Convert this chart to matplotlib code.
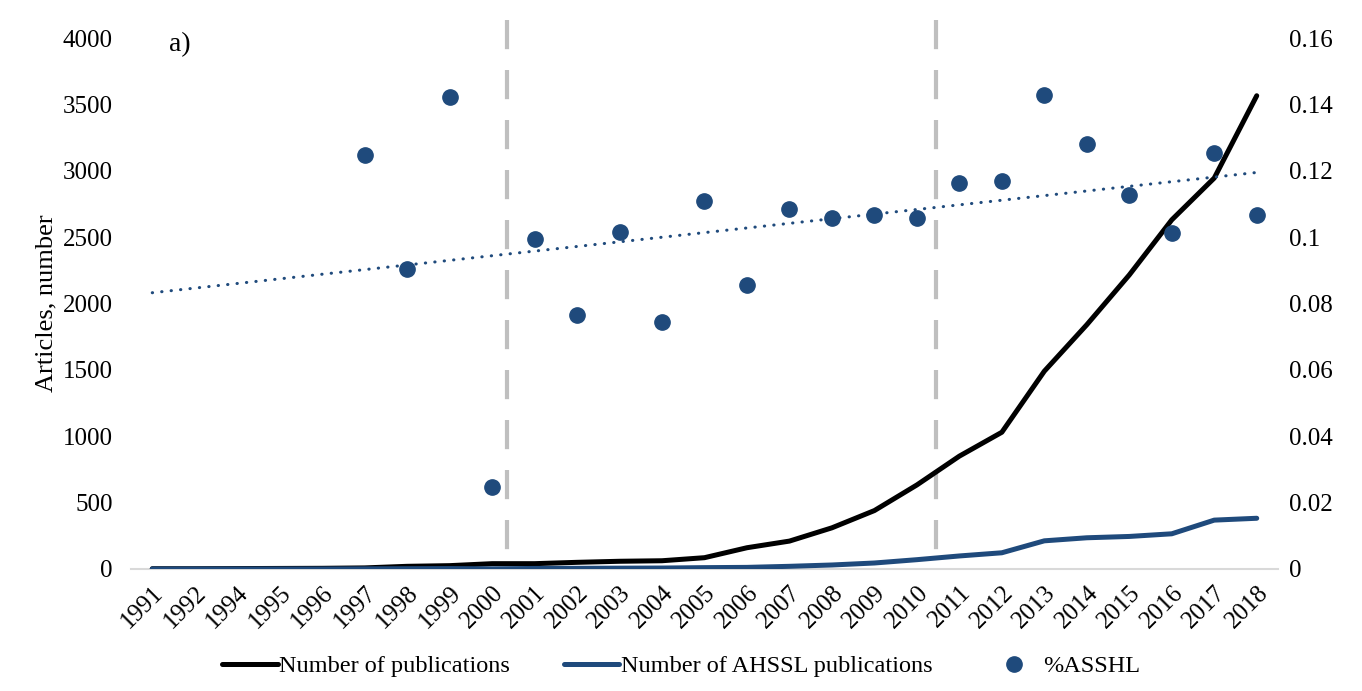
import numpy as np
import matplotlib
matplotlib.use("Agg")
import matplotlib.pyplot as plt

plt.rcParams['font.family'] = ['Liberation Serif', 'DejaVu Serif']

# data
years = ['1991', '1992', '1994', '1995', '1996', '1997', '1998', '1999', '2000',
         '2001', '2002', '2003', '2004', '2005', '2006', '2007', '2008', '2009',
         '2010', '2011', '2012', '2013', '2014', '2015', '2016', '2017', '2018']
n_pub = [2, 2, 3, 4, 5, 8, 20, 25, 40, 40, 50, 58, 62, 85, 160, 210, 310, 440,
         633, 850, 1030, 1490, 1840, 2215, 2630, 2945, 3565]
n_ahssl = [0, 0, 0, 0, 0, 1, 2, 3, 1, 4, 5, 6, 7, 10, 12, 20, 30, 45,
           70, 98, 122, 212, 235, 245, 265, 368, 382]
pct_asshl = [np.nan, np.nan, np.nan, np.nan, np.nan, 0.1247, 0.0905, 0.1423, 0.0247,
             0.0995, 0.0765, 0.1015, 0.0743, 0.1108, 0.0855, 0.1086, 0.1057, 0.1066,
             0.1058, 0.1162, 0.1169, 0.1427, 0.1280, 0.1126, 0.1013, 0.1253, 0.1066]
# positions of the two period separators (between category slots)
split_pos = [8.35, 18.45]

blue = '#1f4a7c'
x = np.arange(len(years))

fig = plt.figure(figsize=(13.62, 6.91), dpi=100)
ax = fig.add_axes([0.0962, 0.1766, 0.8421, 0.7684])
ax2 = ax.twinx()

ax.plot(x, n_pub, color='black', lw=3.6, solid_capstyle='round', zorder=3,
        label='Number of publications')
ax.plot(x, n_ahssl, color=blue, lw=3.6, solid_capstyle='round', zorder=3,
        label='Number of AHSSL publications')

pct = np.array(pct_asshl)
ok = ~np.isnan(pct)
ax2.plot(x, pct, 'o', color=blue, markersize=11, label='%ASSHL', zorder=4)
# linear trend line, as in the source
coef = np.polyfit(x[ok], pct[ok], 1)
ax2.plot(x, np.polyval(coef, x), color=blue, lw=2.2,
         linestyle=(0, (0.1, 3)), dash_capstyle='round', zorder=4)

for p in split_pos:
    ax.plot([p, p], [1.034, 0], transform=ax.get_xaxis_transform(), color='#bfbfbf',
            lw=3, linestyle=(0, (7, 5)), clip_on=False, zorder=2)

ax.set_xlim(-0.5, len(years) - 0.5)
ax.set_ylim(0, 4000)
ax2.set_ylim(0, 0.16)
ax.set_yticks(range(0, 4001, 500))
ax2.set_yticks([0, 0.02, 0.04, 0.06, 0.08, 0.1, 0.12, 0.14, 0.16])
ax2.set_yticklabels(['0', '0.02', '0.04', '0.06', '0.08', '0.1', '0.12', '0.14', '0.16'])
ax.set_xticks(x)
ax.set_xticklabels(years, rotation=45, ha='right', va='top', rotation_mode='anchor')

for a in (ax, ax2):
    for s in a.spines.values():
        s.set_visible(False)
    a.tick_params(length=0, labelsize=18)
ax.spines['bottom'].set_visible(True)
ax.spines['bottom'].set_color('#d9d9d9')
ax.spines['bottom'].set_linewidth(1.5)
ax.tick_params(axis='y', pad=13)
ax.tick_params(axis='x', pad=9)
ax2.tick_params(axis='y', pad=8)

ax.set_ylabel('Articles, number', fontsize=19, labelpad=4)
ax.text(0.033, 0.975, 'a)', transform=ax.transAxes, fontsize=20)

h1, l1 = ax.get_legend_handles_labels()
h2, l2 = ax2.get_legend_handles_labels()
fig.legend(h1 + h2, l1 + l2, loc='lower center', bbox_to_anchor=(0.5, -0.012), ncol=3,
           frameon=False, fontsize=17.5, handlelength=2.3, handletextpad=0.05,
           columnspacing=2.2)

fig.savefig('out.png', dpi=100)
